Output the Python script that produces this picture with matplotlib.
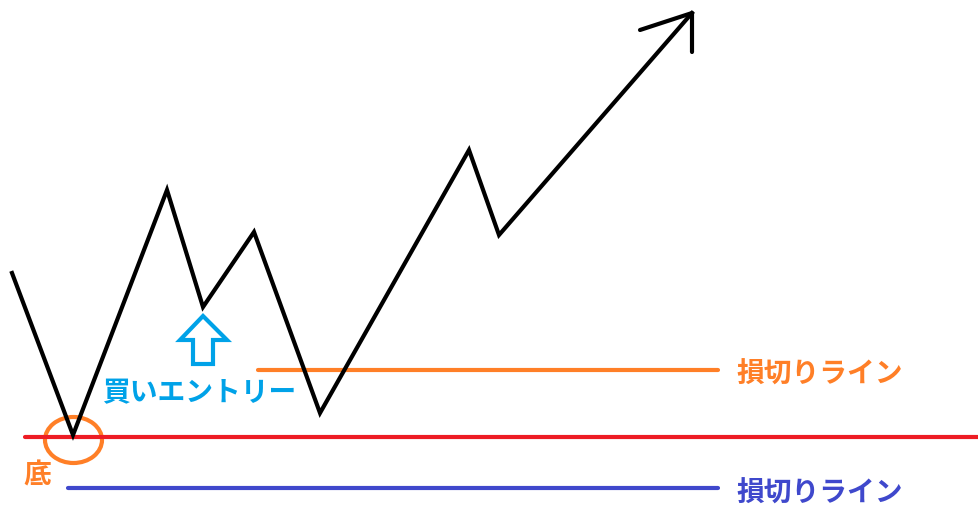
import matplotlib.pyplot as plt
from matplotlib.patches import Ellipse, Polygon

plt.rcParams['font.family'] = ['Noto Sans CJK JP', 'DejaVu Sans']

# price path (pixel coords of the sketch)
path_x = [12, 73, 167, 203, 254, 320, 469, 499, 692]
path_y = [273, 435, 190, 307, 232, 413, 150, 235, 13]
head_x = [640, 692, 692]
head_y = [30, 13, 52]

stop_upper_y = 370
stop_lower_y = 488
bottom_y = 437

labels = {
    'entry': '買いエントリー',
    'stop': '損切りライン',
    'bottom': '底',
}

ORANGE = '#ff7f27'
BLUE = '#3f48cc'
RED = '#ed1c24'
CYAN = '#00a2e8'

fig = plt.figure(figsize=(9.79, 5.11), dpi=100)
ax = fig.add_axes([0, 0, 1, 1])
ax.set_xlim(0, 979)
ax.set_ylim(511, 0)
ax.axis('off')

lw = 3.0
ax.plot([25, 979], [bottom_y, bottom_y], color=RED, lw=lw, solid_capstyle='round')
ax.plot([258, 718], [stop_upper_y, stop_upper_y], color=ORANGE, lw=lw, solid_capstyle='round')
ax.plot([68, 718], [stop_lower_y, stop_lower_y], color=BLUE, lw=lw, solid_capstyle='round')

ax.plot(path_x, path_y, color='black', lw=lw, solid_joinstyle='miter')
ax.plot(head_x, head_y, color='black', lw=lw, solid_capstyle='round')

ax.add_patch(Ellipse((73.5, 440), 57, 46, fill=False, ec=ORANGE, lw=lw))

arrow = [(203, 316), (227, 340), (213, 340), (213, 364), (193, 364), (193, 340), (180, 340)]
ax.add_patch(Polygon(arrow, closed=True, fill=False, ec=CYAN, lw=lw, joinstyle='miter'))

fs = 20
ax.text(102, 393, labels['entry'], color=CYAN, fontsize=fs, fontweight='bold', va='center', ha='left')
ax.text(736, 375, labels['stop'], color=ORANGE, fontsize=fs, fontweight='bold', va='center', ha='left')
ax.text(736, 494, labels['stop'], color=BLUE, fontsize=fs, fontweight='bold', va='center', ha='left')
ax.text(23, 476, labels['bottom'], color=ORANGE, fontsize=fs, fontweight='bold', va='center', ha='left')

fig.savefig('out.png', dpi=100, facecolor='white')
